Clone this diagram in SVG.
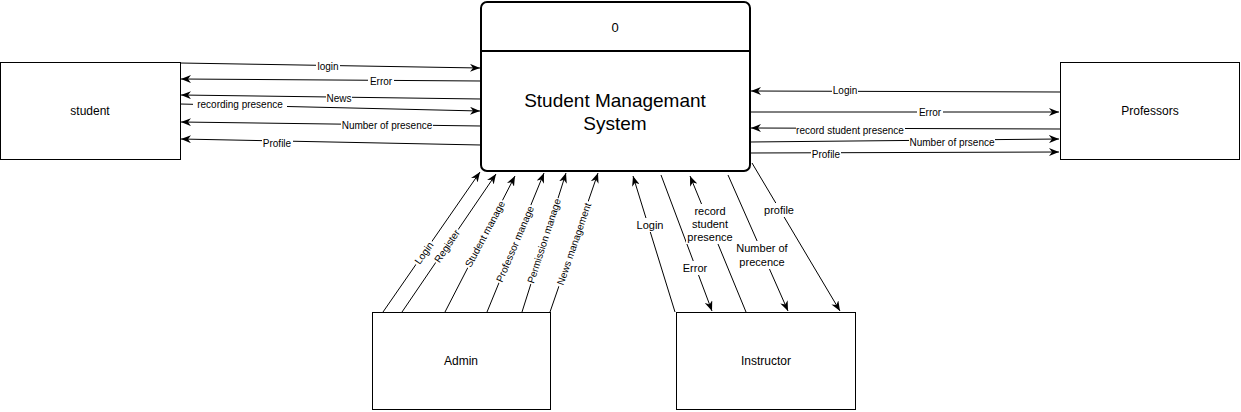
<svg xmlns="http://www.w3.org/2000/svg" width="1241" height="412" viewBox="0 0 1241 412">
<style>
.box{fill:#fff;stroke:#000;stroke-width:1}
.main{fill:#fff;stroke:#000;stroke-width:2}
.lbl{font-family:"Liberation Sans",Arial,sans-serif;font-size:12px;fill:#000;text-anchor:middle;dominant-baseline:central}
.el{font-family:"Liberation Sans",Arial,sans-serif;font-size:10px;fill:#000;text-anchor:middle;dominant-baseline:central}
.el2{font-family:"Liberation Sans",Arial,sans-serif;font-size:11px;fill:#000;text-anchor:middle;dominant-baseline:central}
.title{font-family:"Liberation Sans",Arial,sans-serif;font-size:19px;fill:#000;text-anchor:middle;dominant-baseline:central}
.ln{stroke:#000;stroke-width:1;fill:none;marker-end:url(#arr)}
.bg{fill:#fff}
</style>
<defs>
<marker id="arr" viewBox="0 0 10 8" refX="10" refY="4" markerWidth="10" markerHeight="8" orient="auto" markerUnits="userSpaceOnUse">
<path d="M0,0 L10,4 L0,8 L3,4 z" fill="#000"/>
</marker>
</defs>

<g id="connectors">
<!-- left side -->
<line class="ln" x1="180" y1="63" x2="480" y2="68"/>
<line class="ln" x1="481" y1="81" x2="181" y2="79"/>
<line class="ln" x1="481" y1="99" x2="181" y2="95"/>
<line class="ln" x1="180" y1="104" x2="480" y2="111"/>
<line class="ln" x1="481" y1="126" x2="181" y2="122"/>
<line class="ln" x1="481" y1="145" x2="181" y2="139"/>
<rect class="bg" x="316" y="60" width="24" height="12"/><text class="el" x="328" y="66">login</text>
<rect class="bg" x="368" y="75" width="26" height="12"/><text class="el" x="381" y="81">Error</text>
<rect class="bg" x="326" y="92" width="26" height="12"/><text class="el" x="339" y="98">News</text>
<rect class="bg" x="193" y="98" width="94" height="12"/><text class="el" x="240" y="104">recording presence</text>
<rect class="bg" x="341" y="119" width="92" height="12"/><text class="el" x="387" y="125">Number of presence</text>
<rect class="bg" x="262" y="137" width="31" height="12"/><text class="el" x="277" y="143">Profile</text>

<!-- right side -->
<line class="ln" x1="1060" y1="92" x2="751" y2="91"/>
<line class="ln" x1="750" y1="112" x2="1059" y2="112"/>
<line class="ln" x1="1060" y1="129" x2="751" y2="128"/>
<line class="ln" x1="750" y1="142" x2="1059" y2="139"/>
<line class="ln" x1="750" y1="153" x2="1059" y2="152"/>
<rect class="bg" x="832" y="84" width="26" height="12"/><text class="el" x="845" y="90">Login</text>
<rect class="bg" x="917" y="106" width="26" height="12"/><text class="el" x="930" y="112">Error</text>
<rect class="bg" x="796" y="124" width="109" height="12"/><text class="el" x="850" y="130">record student presence</text>
<rect class="bg" x="909" y="136" width="86" height="12"/><text class="el" x="952" y="142">Number of prsence</text>
<rect class="bg" x="811" y="148" width="30" height="12"/><text class="el" x="826" y="154">Profile</text>

<!-- admin -->
<line class="ln" x1="383" y1="312" x2="480" y2="172"/>
<line class="ln" x1="402" y1="312" x2="496" y2="174"/>
<line class="ln" x1="445" y1="312" x2="515" y2="176"/>
<line class="ln" x1="487" y1="312" x2="544" y2="173"/>
<line class="ln" x1="522" y1="312" x2="566" y2="173"/>
<line class="ln" x1="550" y1="312" x2="598" y2="173"/>
<g transform="translate(424,253) rotate(-55)"><rect class="bg" x="-14" y="-6" width="28" height="12"/><text class="el" x="0" y="0">Login</text></g>
<g transform="translate(447,246) rotate(-56)"><rect class="bg" x="-20" y="-6" width="40" height="12"/><text class="el" x="0" y="0">Register</text></g>
<g transform="translate(485,234) rotate(-62)"><rect class="bg" x="-38" y="-6" width="76" height="12"/><text class="el" x="0" y="0">Student manage</text></g>
<g transform="translate(515,244) rotate(-67)"><rect class="bg" x="-42" y="-6" width="84" height="12"/><text class="el" x="0" y="0">Professor manage</text></g>
<g transform="translate(544,241) rotate(-72)"><rect class="bg" x="-45" y="-6" width="90" height="12"/><text class="el" x="0" y="0">Permission manage</text></g>
<g transform="translate(574,244) rotate(-71)"><rect class="bg" x="-45" y="-6" width="90" height="12"/><text class="el" x="0" y="0">News management</text></g>

<!-- instructor -->
<line class="ln" x1="675" y1="312" x2="633" y2="176"/>
<line class="ln" x1="661" y1="175" x2="712" y2="311"/>
<line class="ln" x1="746" y1="312" x2="690" y2="176"/>
<line class="ln" x1="728" y1="175" x2="788" y2="311"/>
<line class="ln" x1="752" y1="163" x2="840" y2="311"/>
<rect class="bg" x="636" y="218" width="29" height="14"/><text class="el2" x="650" y="225">Login</text>
<rect class="bg" x="681" y="261" width="28" height="14"/><text class="el2" x="695" y="268">Error</text>
<rect class="bg" x="686" y="204" width="49" height="40"/>
<text class="el2" x="710" y="211">record</text>
<text class="el2" x="710" y="224">student</text>
<text class="el2" x="710" y="237">presence</text>
<rect class="bg" x="735" y="241" width="55" height="28"/>
<text class="el2" x="762" y="248">Number of</text>
<text class="el2" x="762" y="262">precence</text>
<rect class="bg" x="763" y="203" width="33" height="14"/><text class="el2" x="779" y="210">profile</text>
</g>

<g id="system">
<rect class="main" x="481" y="2" width="269" height="169" rx="6"/>
<line x1="481" y1="51" x2="750" y2="51" stroke="#000" stroke-width="2"/>
<text class="lbl" x="615" y="27" style="font-size:13px">0</text>
<text class="title" x="615" y="100">Student Managemant</text>
<text class="title" x="615" y="123">System</text>
</g>

<g id="student">
<rect class="box" x="0.5" y="62.5" width="180" height="97"/>
<text class="lbl" x="90" y="111">student</text>
</g>

<g id="professors">
<rect class="box" x="1060.5" y="62.5" width="179" height="97"/>
<text class="lbl" x="1150" y="111">Professors</text>
</g>

<g id="admin">
<rect class="box" x="372.5" y="312.5" width="178" height="97"/>
<text class="lbl" x="461" y="361">Admin</text>
</g>

<g id="instructor">
<rect class="box" x="676.5" y="312.5" width="179" height="97"/>
<text class="lbl" x="766" y="361">Instructor</text>
</g>
</svg>
